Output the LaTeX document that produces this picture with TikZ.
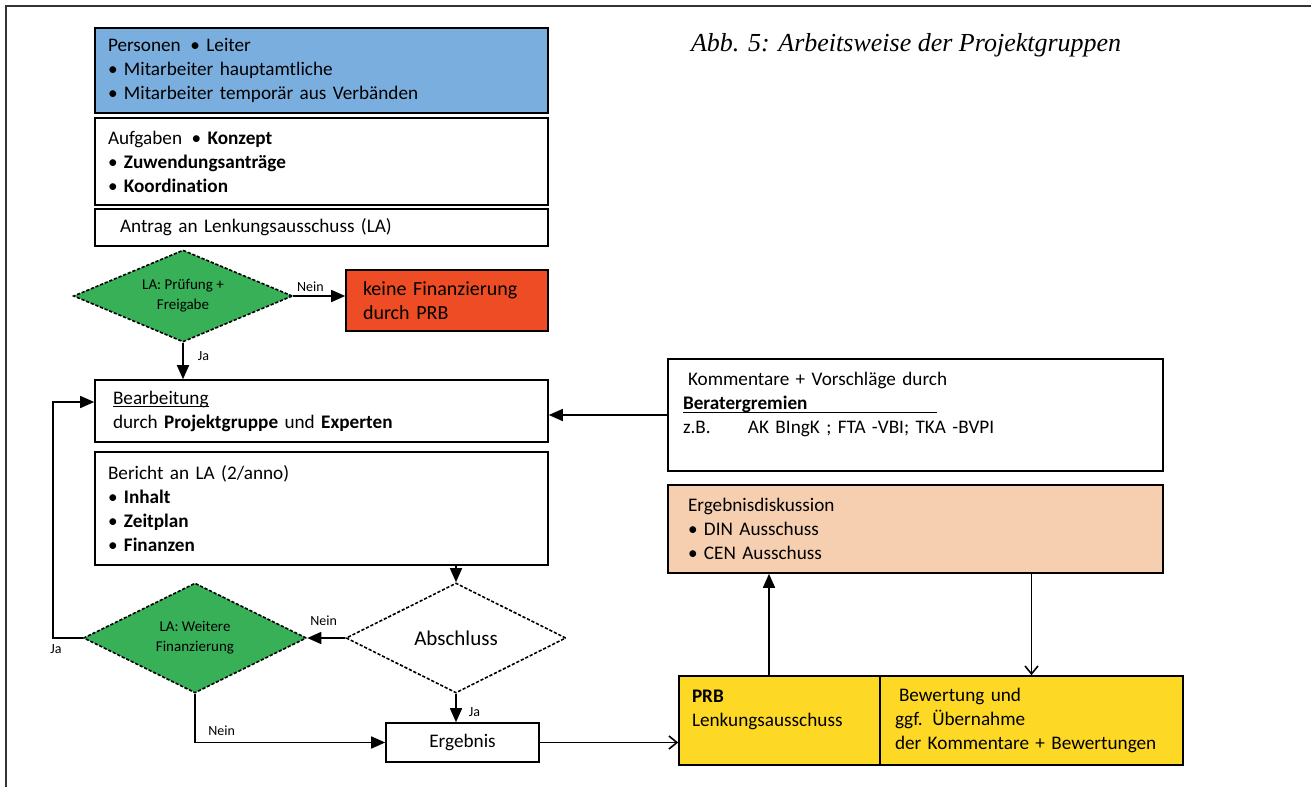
\documentclass[tikz,border=0pt]{standalone}
\usepackage{amsmath}
\usepackage{fontspec}
\setmainfont{Carlito}[Ligatures=NoCommon]
\newfontfamily\capfont{Liberation Serif}
\usepackage{tikz}
\usetikzlibrary{arrows.meta,shapes.geometric}
\tikzset{%
  tipA/.tip={Triangle[length=7pt,width=6pt]},
  tipB/.tip={Straight Barb[length=4pt,width=6.5pt]},
  %tipC/.tip={Stealth[length=6pt]}
}
\definecolor{persblue}{RGB}{122,174,222}
\definecolor{lagreen}{RGB}{56,176,88}
\definecolor{nored}{RGB}{238,76,36}
\definecolor{diskpeach}{RGB}{246,206,176}
\definecolor{prbyellow}{RGB}{253,217,38}
\tikzset{%
  box/.style={draw, line width=.8pt, align=left, inner ysep=0pt,
    font=\fontsize{9.6}{12}\selectfont},
  dia/.style={diamond, draw, line width=.8pt, dash pattern=on 1.6pt off .9pt,
    inner sep=0pt, align=center, font=\fontsize{7.5}{10}\selectfont},
  lbl/.style={inner sep=1pt, font=\fontsize{7}{8}\selectfont},
  conn/.style={line width=.8pt}
}

\begin{document}
\begin{tikzpicture}[x=0.5pt,y=-0.5pt]
\useasboundingbox (0,0) rectangle (1311,787);
\draw[line width=1pt, black!80] (6,787) -- (6,6) -- (1311,6);
\node[anchor=west, font=\capfont\itshape\fontsize{13}{15}\selectfont] (cap) at (684,45) {Abb. 5: Arbeitsweise der Projektgruppen};
%% left column
\node[box, fill=persblue, text width=213.5pt, inner xsep=6.5pt, minimum height=42.5pt] (pers) at (321.5,70.5)
  {Personen\enspace\textbullet\ Leiter\\ \textbullet\ Mitarbeiter hauptamtliche\\ \textbullet\ Mitarbeiter temporär aus Verbänden};
\node[box, text width=213.5pt, inner xsep=6.5pt, minimum height=43.5pt] (aufg) at (321.5,161.5)
  {Aufgaben\enspace\textbullet\ \textbf{Konzept}\\ \textbullet\ \textbf{Zuwendungsanträge}\\ \textbullet\ \textbf{Koordination}};
\node[box, text width=201.5pt, inner xsep=12.5pt, minimum height=18.5pt] (antrag) at (321.5,227.5)
  {Antrag an Lenkungsausschuss (LA)};
\node[dia, fill=lagreen, minimum width=109.5pt, minimum height=46pt, aspect=2.38] (pruef) at (183,296)
  {LA: Prüfung +\\ Freigabe};
\node[box, fill=nored, text width=84pt, inner xsep=8.5pt, minimum height=30.5pt, font=\fontsize{10}{12}\selectfont] (keine) at (447,300.5)
  {keine Finanzierung\\ durch PRB};
\node[box, text width=208.5pt, inner xsep=9pt, minimum height=31pt] (bearb) at (321.5,411)
  {\underline{\smash[b]{Bearbeitung}}\\ durch \textbf{Projektgruppe} und \textbf{Experten}};
\node[box, text width=213.5pt, inner xsep=6.5pt, minimum height=56.5pt] (bericht) at (321.5,508.5)
  {Bericht an LA (2/anno)\\ \textbullet\ \textbf{Inhalt}\\ \textbullet\ \textbf{Zeitplan}\\ \textbullet\ \textbf{Finanzen}};
\node[dia, fill=lagreen, minimum width=111.5pt, minimum height=55pt, aspect=2.03] (weiter) at (195,638)
  {LA: Weitere\\ Finanzierung};
\node[dia, fill=white, minimum width=110pt, minimum height=55pt, aspect=2, font=\fontsize{10.5}{12}\selectfont] (absch) at (456,638)
  {Abschluss};
\node[box, align=center, minimum width=76.5pt, minimum height=19.5pt] (erg) at (462.5,742.5) {Ergebnis};
%% right column
\node[box, text width=232.5pt, inner xsep=7.5pt, minimum height=56pt] (komm) at (915.5,415)
  {\hspace{2.5pt}Kommentare + Vorschläge durch\\ \underline{\smash[b]{\makebox[127pt][l]{\textbf{Beratergremien}}}}\\
   \makebox[32.5pt][l]{z.B.}AK BIngK ; FTA -VBI; TKA -BVPI\\ \mbox{}};
\node[box, fill=diskpeach, text width=227.5pt, inner xsep=10pt, minimum height=44pt] (disk) at (915.5,529)
  {Ergebnisdiskussion\\ \textbullet\ DIN Ausschuss\\ \textbullet\ CEN Ausschuss};
\node[box, fill=prbyellow, text width=87.5pt, inner xsep=6.5pt, minimum height=44.5pt] (prbl) at (779.5,720.5)
  {\textbf{PRB}\\ Lenkungsausschuss\\ \mbox{}};
\node[box, fill=prbyellow, text width=136.5pt, inner xsep=7.5pt, minimum height=44.5pt] (prbr) at (1031.5,720.5)
  {\hspace{2pt}Bewertung und\\ ggf. Übernahme\\ der Kommentare + Bewertungen};
\coordinate (loop) at (53,402);
%% connectors
\draw[conn, -tipA] (pruef.east) -- node[lbl, above=1pt, pos=.33] (n1) {Nein} (pruef.east -| keine.west);
\draw[conn, -tipA] (pruef.south) -- node[lbl, right=6pt, pos=.37] (j1) {Ja} (pruef.south |- bearb.north);
\draw[conn, -tipA] (komm.west) -- (komm.west -| bearb.east);
\draw[conn, -tipA] (absch.north |- bericht.south) -- (absch.north);
\draw[conn, -tipA] (absch.west) -- node[lbl, above=5pt, pos=.57] (n2) {Nein} (weiter.east);
\draw[conn, -tipA] (absch.south) -- node[lbl, right=5pt, pos=.63] (j2) {Ja} (absch.south |- erg.north);
\draw[conn, -tipA] (weiter.south) |- node[lbl, above=2pt, pos=.57] (n3) {Nein} (erg.west);
\draw[conn, -tipA] (weiter.west) -| node[lbl, below=2pt, pos=.45] (j3) {Ja} (loop) -- (loop -| bearb.west);
\draw[conn, -tipB] (erg.east) -- (erg.east -| prbl.west);
\draw[conn, -tipA] ([xshift=-5.25pt]prbl.north) -- ([xshift=-5.25pt]prbl.north |- disk.south);
\draw[conn, -tipB] (prbr.north |- disk.south) -- (prbr.north);
\end{tikzpicture}
\end{document}
